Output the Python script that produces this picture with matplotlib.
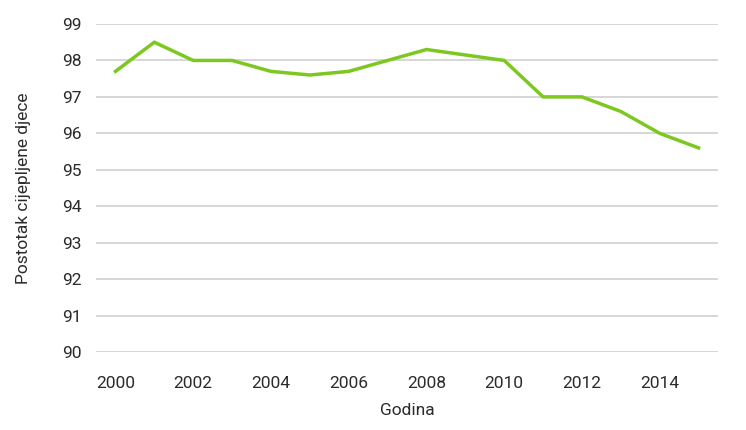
import matplotlib
matplotlib.use("Agg")
import matplotlib.pyplot as plt
import numpy as np

plt.rcParams["font.family"] = ["Roboto", "DejaVu Sans"]

TEXT_COLOR = "#2B2B2B"
GRID_COLOR = "#CCCCCC"
LINE_COLOR = "#7CC820"

years = [2000, 2001, 2002, 2003, 2004, 2005, 2006, 2007,
         2008, 2009, 2010, 2011, 2012, 2013, 2014, 2015]
percent = [97.7, 98.5, 98.0, 98.0, 97.7, 97.6, 97.7, 98.0,
           98.3, 98.15, 98.0, 97.0, 97.0, 96.6, 96.0, 95.6]
y_ticks = [90, 91, 92, 93, 94, 95, 96, 97, 98, 99]


def main():
    fig = plt.figure(figsize=(7.46, 4.30), dpi=100)
    ax = fig.add_axes([0.1287, 0.1814, 0.8338, 0.7628])

    x = np.arange(len(years))
    ax.plot(x, percent, color=LINE_COLOR, linewidth=2.5, solid_joinstyle="miter")

    ax.set_xlim(-0.5, len(years) - 0.5)
    ax.set_ylim(90, 99)
    ax.set_yticks(y_ticks)
    ax.set_xticks(x[::2])
    ax.set_xticklabels([str(y) for y in years[::2]])

    ax.tick_params(axis="both", length=0, labelsize=12.5, colors=TEXT_COLOR)
    ax.tick_params(axis="y", pad=10)
    ax.tick_params(axis="x", pad=17)

    ax.grid(axis="y", color=GRID_COLOR, linewidth=1.1)
    ax.set_axisbelow(True)
    for s in ax.spines.values():
        s.set_visible(False)

    ax.set_xlabel("Godina", fontsize=12.5, color=TEXT_COLOR, labelpad=9)
    ax.set_ylabel("Postotak cijepljene djece", fontsize=12.5, color=TEXT_COLOR, labelpad=23)

    fig.savefig("out.png", dpi=100, facecolor="white")
    plt.close(fig)


if __name__ == "__main__":
    main()
